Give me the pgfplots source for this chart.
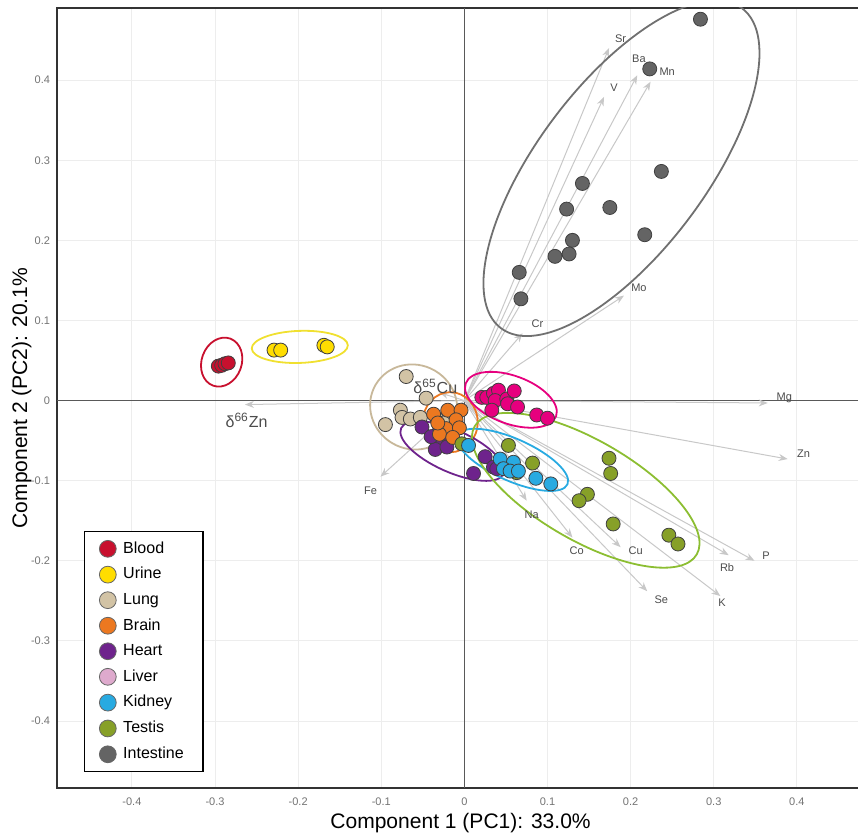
\documentclass[border=0pt]{standalone}
\usepackage{fontspec}
\setmainfont{Liberation Sans}
\usepackage{pgfplots}
\pgfplotsset{compat=1.18}
\usepackage{pgfplotstable}
\usetikzlibrary{arrows.meta}

\definecolor{cBlood}{HTML}{C8102E}
\definecolor{cUrine}{HTML}{FFDD00}
\definecolor{cUrineE}{HTML}{F0E030}
\definecolor{cLung}{HTML}{D2C3A5}
\definecolor{cLungE}{HTML}{C8B89A}
\definecolor{cBrain}{HTML}{EC7820}
\definecolor{cHeart}{HTML}{6E238C}
\definecolor{cLiverL}{HTML}{DEAACD}
\definecolor{cLiver}{HTML}{E6007E}
\definecolor{cKidney}{HTML}{28AAE1}
\definecolor{cTestis}{HTML}{87A028}
\definecolor{cTestisE}{HTML}{8CBE32}
\definecolor{cIntest}{HTML}{646464}
\definecolor{cIntestE}{HTML}{707070}
\definecolor{arrowgray}{HTML}{C8C8C8}

\pgfplotstableread{
x y
-0.296 0.043
-0.292 0.044
-0.288 0.046
-0.284 0.047
}\blood
\pgfplotstableread{
x y
-0.229 0.063
-0.221 0.063
-0.169 0.069
-0.165 0.067
}\urine
\pgfplotstableread{
x y
-0.070 0.030
-0.046 0.003
-0.077 -0.012
-0.075 -0.021
-0.095 -0.030
-0.065 -0.023
-0.053 -0.021
-0.033 -0.023
-0.025 -0.028
}\lung
\pgfplotstableread{
x y
-0.037 -0.017
-0.020 -0.012
-0.004 -0.012
-0.010 -0.024
-0.022 -0.035
-0.006 -0.034
-0.030 -0.042
-0.014 -0.046
-0.032 -0.028
}\brain
\pgfplotstableread{
x y
-0.051 -0.033
-0.031 -0.040
-0.029 -0.048
-0.035 -0.061
-0.021 -0.058
0.025 -0.070
0.035 -0.083
0.039 -0.085
0.011 -0.091
-0.040 -0.045
}\heart
\pgfplotstableread{
x y
-0.003 -0.054
0.053 -0.056
0.082 -0.078
0.063 -0.090
0.174 -0.072
0.176 -0.091
0.148 -0.117
0.138 -0.125
0.179 -0.154
0.246 -0.168
0.257 -0.179
}\testis
\pgfplotstableread{
x y
0.005 -0.056
0.043 -0.073
0.059 -0.077
0.047 -0.085
0.055 -0.088
0.065 -0.088
0.086 -0.097
0.104 -0.104
}\kidney
\pgfplotstableread{
x y
0.021 0.004
0.027 0.004
0.035 0.009
0.041 0.013
0.037 0.000
0.033 -0.012
0.051 0.002
0.060 0.012
0.052 -0.004
0.064 -0.008
0.087 -0.018
0.100 -0.022
}\liver
\pgfplotstableread{
x y
0.284 0.476
0.223 0.414
0.237 0.286
0.142 0.271
0.123 0.239
0.175 0.241
0.217 0.207
0.130 0.200
0.126 0.183
0.109 0.180
0.066 0.160
0.068 0.127
}\intest
\pgfplotstableread{
x y u v
0 0 0.174 0.440
0 0 0.208 0.406
0 0 0.224 0.398
0 0 0.168 0.379
0 0 0.192 0.131
0 0 0.070 0.084
0 0 -0.030 0.010
0 0 -0.264 -0.005
0 0 -0.101 -0.095
0 0 0.365 -0.003
0 0 0.389 -0.073
0 0 0.349 -0.200
0 0 0.318 -0.193
0 0 0.308 -0.244
0 0 0.220 -0.238
0 0 0.188 -0.183
0 0 0.130 -0.171
0 0 0.075 -0.125
}\vectors
\pgfplotstableread{
x y label
0.188 0.452 Sr
0.210 0.427 Ba
0.244 0.410 Mn
0.180 0.390 V
0.210 0.141 Mo
0.088 0.096 Cr
-0.035 0.018 {\fontsize{8}{9}\selectfont δ\textsuperscript{65}Cu}
-0.262 -0.025 {\fontsize{8}{9}\selectfont δ\textsuperscript{66}Zn}
-0.113 -0.113 Fe
0.385 0.004 Mg
0.408 -0.066 Zn
0.363 -0.194 P
0.316 -0.208 Rb
0.310 -0.252 K
0.237 -0.248 Se
0.206 -0.188 Cu
0.135 -0.188 Co
0.081 -0.142 Na
}\vlabels

\begin{document}
\begin{tikzpicture}
\begin{axis}[
  name=ax,
  x=415pt, y=400pt,
  xmin=-0.490, xmax=0.475, ymin=-0.484, ymax=0.490,
  axis line style={draw=black!80, line width=1pt},
  xtick={-0.4,-0.3,-0.2,-0.1,0,0.1,0.2,0.3,0.4},
  ytick={-0.4,-0.3,-0.2,-0.1,0,0.1,0.2,0.3,0.4},
  extra x ticks={0}, extra y ticks={0},
  extra x tick labels={}, extra y tick labels={},
  extra tick style={grid=major, major grid style={black!65, line width=0.6pt}},
  major tick length=0pt,
  grid=major,
  major grid style={black!7, line width=0.5pt},
  /pgf/number format/assume math mode=true,
  tick label style={font=\fontsize{5.5}{6}\selectfont, text=black!55},
  xticklabel style={yshift=-1pt},
  xlabel={Component 1 (PC1): 33.0\%},
  ylabel={Component 2 (PC2): 20.1\%},
  label style={font=\fontsize{10.5}{12}\selectfont},
  x label style={at={(axis description cs:0.503,-0.044)}, anchor=center},
  y label style={at={(axis description cs:-0.044,0.5)}, anchor=center},
  legend style={at={(axis cs:-0.458,-0.464)}, anchor=south west, draw=black, line width=0.7pt, fill=white,
    font=\fontsize{8}{9.5}\selectfont, inner xsep=7.5pt, inner ysep=3pt, row sep=1.6pt, column sep=1.5pt},
  legend cell align=left,
  mark size=3.5pt,
]
% legend
\addlegendimage{only marks, mark=*, mark size=4.2pt, mark options={fill=cBlood, draw=black!60, line width=0.4pt}}
\addlegendentry{Blood}
\addlegendimage{only marks, mark=*, mark size=4.2pt, mark options={fill=cUrine, draw=black!60, line width=0.4pt}}
\addlegendentry{Urine}
\addlegendimage{only marks, mark=*, mark size=4.2pt, mark options={fill=cLung, draw=black!60, line width=0.4pt}}
\addlegendentry{Lung}
\addlegendimage{only marks, mark=*, mark size=4.2pt, mark options={fill=cBrain, draw=black!60, line width=0.4pt}}
\addlegendentry{Brain}
\addlegendimage{only marks, mark=*, mark size=4.2pt, mark options={fill=cHeart, draw=black!60, line width=0.4pt}}
\addlegendentry{Heart}
\addlegendimage{only marks, mark=*, mark size=4.2pt, mark options={fill=cLiverL, draw=black!60, line width=0.4pt}}
\addlegendentry{Liver}
\addlegendimage{only marks, mark=*, mark size=4.2pt, mark options={fill=cKidney, draw=black!60, line width=0.4pt}}
\addlegendentry{Kidney}
\addlegendimage{only marks, mark=*, mark size=4.2pt, mark options={fill=cTestis, draw=black!60, line width=0.4pt}}
\addlegendentry{Testis}
\addlegendimage{only marks, mark=*, mark size=4.2pt, mark options={fill=cIntest, draw=black!60, line width=0.4pt}}
\addlegendentry{Intestine}

% loading vectors
\addplot[forget plot, color=arrowgray, line width=0.5pt, no marks,
  quiver={u=\thisrow{u}, v=\thisrow{v}, every arrow/.append style={-{Stealth[length=4.5pt,width=3.5pt]}}}]
  table[x=x, y=y] \vectors;
\addplot[forget plot, draw=none, mark=none, nodes near coords, point meta=explicit symbolic,
  every node near coord/.append style={anchor=center, inner sep=0pt, font=\fontsize{5.5}{6}\selectfont, text=black!70}]
  table[x=x, y=y, meta=label] \vlabels;

% samples
\pgfplotsset{samp/.style={forget plot, only marks, mark=*, mark options={fill=#1, draw=black!75, line width=0.4pt}}}
\addplot[samp=cLung] table \lung;
\addplot[samp=cHeart] table \heart;
\addplot[samp=cBrain] table \brain;
\addplot[samp=cTestis] table \testis;
\addplot[samp=cKidney] table \kidney;
\addplot[samp=cLiver] table \liver;
\addplot[samp=cIntest] table \intest;
\addplot[samp=cBlood] table \blood;
\addplot[samp=cUrine] table \urine;

% confidence ellipses
\draw[cBlood, line width=0.9pt, rotate around={70:(axis cs:-0.292,0.048)}] (axis cs:-0.292,0.048) ellipse [x radius=12.5pt, y radius=10pt];
\draw[cUrineE, line width=0.9pt, rotate around={2:(axis cs:-0.198,0.067)}] (axis cs:-0.198,0.067) ellipse [x radius=24pt, y radius=8pt];
\draw[cLungE, line width=0.9pt, rotate around={-30:(axis cs:-0.061,-0.008)}] (axis cs:-0.061,-0.008) ellipse [x radius=22pt, y radius=21pt];
\draw[cBrain, line width=0.9pt] (axis cs:-0.017,-0.027) ellipse [x radius=13.7pt, y radius=15pt];
\draw[cHeart, line width=0.9pt, rotate around={-24:(axis cs:-0.0145,-0.063)}] (axis cs:-0.0145,-0.063) ellipse [x radius=28pt, y radius=10.5pt];
\draw[cKidney, line width=0.9pt, rotate around={-24:(axis cs:0.058,-0.074)}] (axis cs:0.058,-0.074) ellipse [x radius=30pt, y radius=10.5pt];
\draw[cTestisE, line width=0.9pt, rotate around={-30:(axis cs:0.146,-0.112)}] (axis cs:0.146,-0.112) ellipse [x radius=64pt, y radius=25pt];
\draw[cLiver, line width=0.9pt, rotate around={-20:(axis cs:0.056,0.001)}] (axis cs:0.056,0.001) ellipse [x radius=24pt, y radius=12pt];
\draw[cIntestE, line width=0.9pt, rotate around={53:(axis cs:0.189,0.290)}] (axis cs:0.189,0.290) ellipse [x radius=100pt, y radius=42pt];
\end{axis}
\pgfresetboundingbox
\path[use as bounding box] ([shift={(-28.5pt,-24.5pt)}]ax.south west) rectangle ([shift={(-0.6pt,4pt)}]ax.north east);
\end{tikzpicture}
\end{document}
